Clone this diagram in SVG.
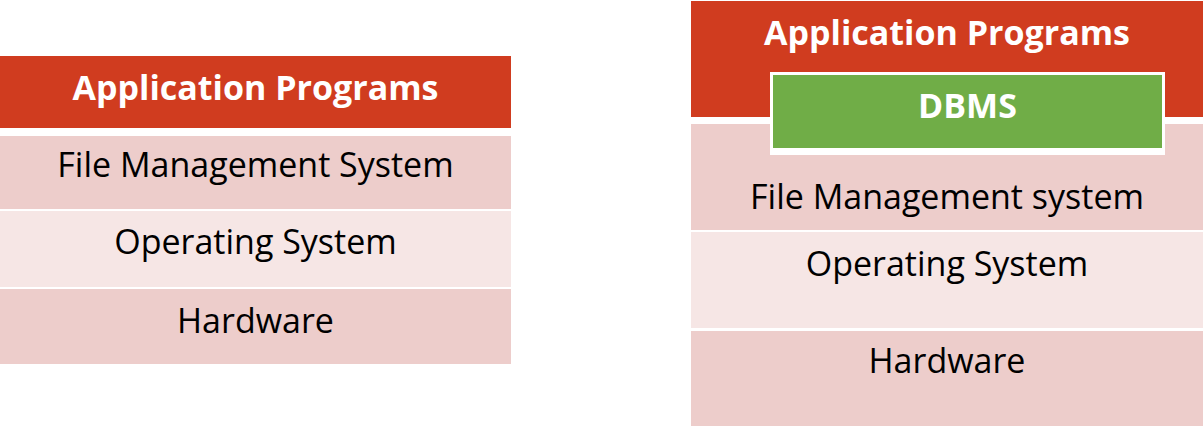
<svg xmlns="http://www.w3.org/2000/svg" width="1203" height="426" viewBox="0 0 1203 426">
<style>
.red{fill:#D03C1F}
.pink{fill:#EDCDCB}
.light{fill:#F6E6E5}
.green{fill:#70AD47}
.h{font-family:"Open Sans","Noto Sans","Liberation Sans",sans-serif;font-weight:bold;font-size:34px;fill:#fff;text-anchor:middle}
.t{font-family:"Open Sans","Noto Sans","Liberation Sans",sans-serif;font-size:34px;fill:#000;text-anchor:middle}
</style>
<rect width="1203" height="426" fill="#fff"/>
<g id="left-app">
<rect class="red" x="0" y="56" width="511" height="72"/>
<text class="h" x="255.5" y="100">Application Programs</text>
</g>
<g id="left-fms">
<rect class="pink" x="0" y="136" width="511" height="73"/>
<text class="t" x="255.5" y="177">File Management System</text>
</g>
<g id="left-os">
<rect class="light" x="0" y="211" width="511" height="76"/>
<text class="t" x="255.5" y="254">Operating System</text>
</g>
<g id="left-hw">
<rect class="pink" x="0" y="289" width="511" height="75"/>
<text class="t" x="255.5" y="333">Hardware</text>
</g>
<g id="right-app">
<rect class="red" x="691" y="1" width="512" height="116"/>
<text class="h" x="947" y="45">Application Programs</text>
</g>
<g id="right-fms">
<rect class="pink" x="691" y="124" width="512" height="106"/>
<text class="t" x="947" y="209">File Management system</text>
</g>
<g id="right-os">
<rect class="light" x="691" y="232" width="512" height="96"/>
<text class="t" x="947" y="276">Operating System</text>
</g>
<g id="right-hw">
<rect class="pink" x="691" y="331" width="512" height="95"/>
<text class="t" x="947" y="373">Hardware</text>
</g>
<g id="dbms">
<rect x="770" y="72" width="395" height="83" fill="#fff"/>
<rect class="green" x="773" y="75" width="389" height="73"/>
<text class="h" x="967.5" y="118">DBMS</text>
</g>
<g id="connectors"/>
</svg>
